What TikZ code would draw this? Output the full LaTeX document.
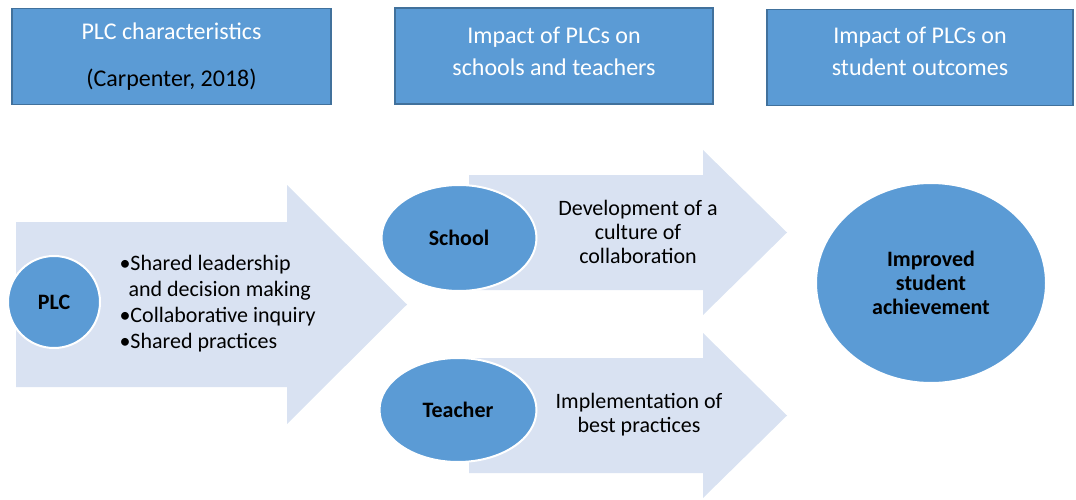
\documentclass[tikz,border=0pt]{standalone}
\usepackage{fontspec}
\setmainfont{Carlito}
\usetikzlibrary{shapes.geometric}
\definecolor{headblue}{HTML}{5B9BD5}
\definecolor{headline}{HTML}{41719C}
\definecolor{arrowblue}{HTML}{D9E2F2}
\tikzset{
    headbox/.style={draw=headline, line width=1.5pt, fill=headblue, minimum width=#1, inner sep=0pt, minimum height=96pt},
    headtext/.style={align=center, font=\fontsize{24}{32}\selectfont, text=white},
    blob/.style={ellipse, draw=white, line width=2pt, fill=headblue, inner sep=0pt, align=center, font=\fontsize{22}{24}\selectfont\bfseries},
    bodytext/.style={align=center, font=\fontsize{22}{24}\selectfont},
    arrowshape/.style={fill=arrowblue}
}
\begin{document}
\begin{tikzpicture}[x=1pt, y=-1pt]
    \useasboundingbox (0,0) rectangle (1076,500);
    % headers
    \node[headbox=319pt] (hplc) at (171.5,56.5) {};
    \node[headtext, font=\fontsize{24}{24}\selectfont] (hplct) at (171.5,56.5) {PLC characteristics\\[23pt]\textcolor{black}{(Carpenter, 2018)}};
    \node[headbox=318pt] (hschool) at (554,56) {};
    \node[headtext] (hschoolt) at (554,51) {Impact of PLCs on\\schools and teachers};
    \node[headbox=306pt] (hstudent) at (920,57.5) {};
    \node[headtext] (hstudentt) at (920,51) {Impact of PLCs on\\student outcomes};
    % big arrows
    \fill[arrowshape] (16,222) -- (287,222) -- (287,185) -- (407,304.5) -- (287,424) -- (287,387) -- (16,387) -- cycle;
    \foreach \dy in {0,183} {
            \fill[arrowshape] (469,175+\dy) -- (703,175+\dy) -- (703,150+\dy) -- (787,232.5+\dy)
                -- (703,315+\dy) -- (703,290+\dy) -- (469,290+\dy) -- cycle;
        }
    % ellipses
    \node[blob, minimum width=92pt, minimum height=92pt] (plc) at (54,302) {PLC};
    \node[blob, minimum width=155pt, minimum height=106pt] (school) at (459,238) {School};
    \node[blob, minimum width=157pt, minimum height=104pt] (teacher) at (458,410) {Teacher};
    \node[blob, minimum width=230pt, minimum height=200pt] (outcome) at (931,283) {Improved\\student\\achievement};
    % texts on the arrows
    \node[bodytext, align=left, anchor=west, font=\fontsize{22}{26}\selectfont] (traits) at (116,304)
        {\textbullet Shared leadership\\\hspace{9pt}and decision making\\\textbullet Collaborative inquiry\\\textbullet Shared practices};
    \node[bodytext] (culture) at (638,232) {Development of a\\culture of\\collaboration};
    \node[bodytext] (practice) at (639,415) {Implementation of\\best practices};
\end{tikzpicture}
\end{document}
